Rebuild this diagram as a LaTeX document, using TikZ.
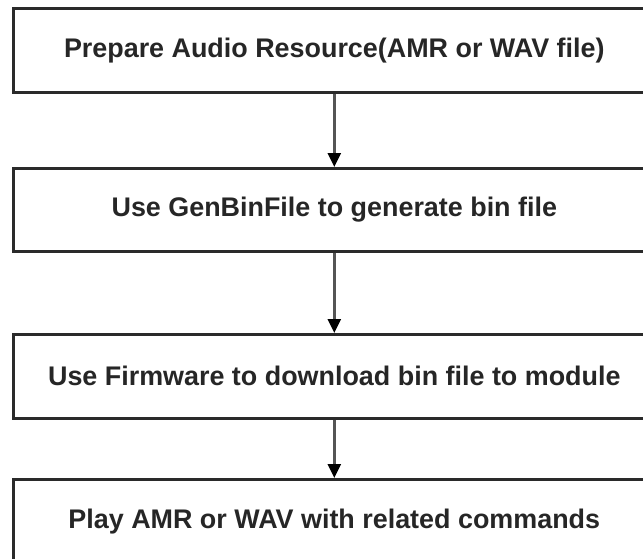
\documentclass[tikz,border=0pt]{standalone}
\usepackage{fontspec}
\setmainfont{Liberation Sans}
\usetikzlibrary{arrows.meta}
\definecolor{boxline}{HTML}{2A2A2A}
\definecolor{shaft}{HTML}{555555}
\tikzset{
  stepbox/.style={draw=boxline, line width=2.6pt, fill=white, rectangle,
    minimum width=642pt, minimum height=84pt, anchor=north west, inner sep=0pt,
    font=\fontsize{26.9}{30}\selectfont\bfseries, text=black!85},
  flowarrow/.style={draw=shaft, line width=2.4pt,
    -{Triangle[width=13pt,length=14pt,fill=black,color=black]}}
}
\begin{document}
\begin{tikzpicture}[x=1pt,y=1pt]
\useasboundingbox (0,0) rectangle (643,-558);
\clip (0,0) rectangle (643,-558);
\node[stepbox] (b1) at (12,-7) {Prepare Audio Resource(AMR or WAV file)};
\node[stepbox, minimum height=83pt] (b2) at (12,-167) {Use GenBinFile to generate bin file};
\node[stepbox] (b3) at (12,-333) {Use Firmware to download bin file to module};
\node[stepbox] (b4) at (12,-478) {Play AMR or WAV with related commands};
\draw[flowarrow] (b1.south) -- (b2.north);
\draw[flowarrow] (b2.south) -- (b3.north);
\draw[flowarrow] (b3.south) -- (b4.north);
\end{tikzpicture}
\end{document}
